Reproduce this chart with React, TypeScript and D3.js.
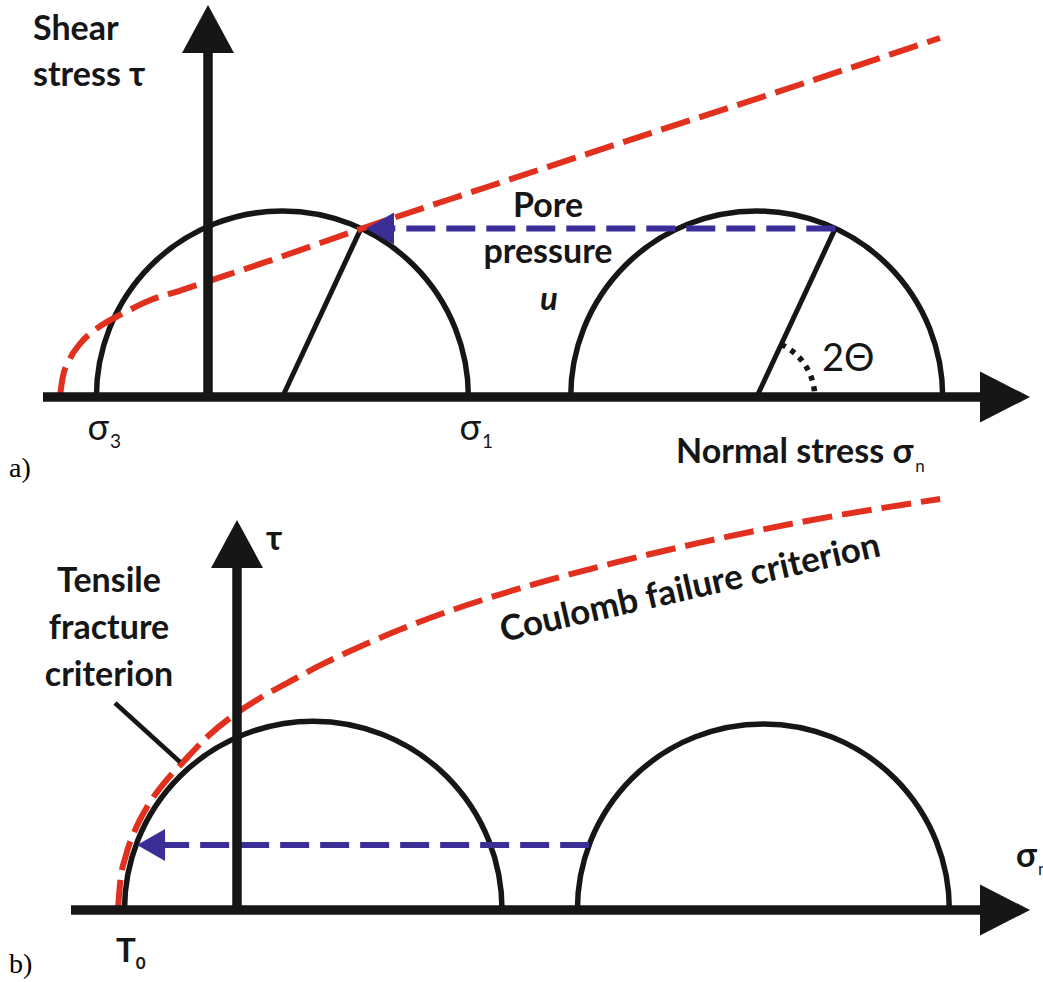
import React from 'react';
import * as d3 from 'd3';

// ---------- DATA (stress units; 1 unit = one tenth of a circle radius) ----------
// Panel a: Mohr circles before / after pore pressure shift
const circlesA = [
  { center: 4, radius: 10 },
  { center: 29.5, radius: 10 },
];
const twoThetaDeg = 65; // angle 2Θ of the failure plane
// Coulomb failure envelope in panel a (σn, τ)
const envelopeA: [number, number][] = [
  [-7.96, 0], [-7.82, 1.0], [-7.45, 2.0], [-6.85, 2.9], [-5.95, 3.7], [-4.65, 4.45],
  [-3.12, 5.2], [-1.5, 5.72], [0, 6.22], [3.0, 7.22], [8.28, 9.06], [15.0, 11.29],
  [22.0, 13.6], [30.0, 16.2], [39.35, 19.3],
];
const principalLabels = [
  { main: 'σ', sub: '3', at: -6 },
  { main: 'σ', sub: '1', at: 14 },
];

// Panel b: tensile failure
const circlesB = [
  { center: 4.1, radius: 10.15 },
  { center: 28.3, radius: 10 },
];
const tensileArrowTau = 3.5;
const envelopeB: [number, number][] = [
  [-6.4, 0], [-6.28, 1.5], [-5.98, 2.9], [-5.5, 4.25], [-4.8, 5.6], [-3.9, 6.85],
  [-2.9, 7.95], [-1.61, 9.3], [0, 10.6], [1.24, 11.4], [2.69, 12.2],
  [4.46, 13.15], [7.15, 14.4], [9.84, 15.5], [13.44, 16.75], [16.99, 17.8],
  [20.43, 18.7], [24.9, 19.75], [30.27, 20.85], [37.8, 22.1],
];
const tensileLines = ['Tensile', 'fracture', 'criterion'];

// ---------- LAYOUT ----------
const W = 1043;
const H = 982;
const U = 18.6; // pixels per stress unit
const BLACK = '#161616';
const RED = '#e2301f';
const BLUE = '#3b2f97';
const FONT = "Lato, 'Open Sans', 'DejaVu Sans', sans-serif";

const xA = d3.scaleLinear().domain([0, 1]).range([208, 208 + U]);
const yA = d3.scaleLinear().domain([0, 1]).range([397, 397 - U]);
const xB = d3.scaleLinear().domain([0, 1]).range([237, 237 + U]);
const yB = d3.scaleLinear().domain([0, 1]).range([910, 910 - U]);

const semicircle = (x: d3.ScaleLinear<number, number>, y: d3.ScaleLinear<number, number>, c: { center: number; radius: number }) => {
  const p = d3.path();
  const r = x(c.radius) - x(0);
  p.moveTo(x(c.center - c.radius), y(0));
  p.arc(x(c.center), y(0), r, Math.PI, 2 * Math.PI);
  return p.toString();
};

const envLine = (x: d3.ScaleLinear<number, number>, y: d3.ScaleLinear<number, number>) =>
  d3.line<[number, number]>()
    .x((d) => x(d[0]))
    .y((d) => y(d[1]))
    .curve(d3.curveMonotoneX);

function XAxis({ x0, x1, y }: { x0: number; x1: number; y: number }) {
  const head = 50, half = 25.5;
  return (
    <g>
      <line x1={x0} y1={y} x2={x1 - head + 2} y2={y} stroke={BLACK} strokeWidth={9.5} />
      <path d={`M${x1},${y}L${x1 - head},${y - half}L${x1 - head},${y + half}Z`} fill={BLACK} />
    </g>
  );
}
function YAxis({ x, y0, y1 }: { x: number; y0: number; y1: number }) {
  const head = 48, half = 26;
  return (
    <g>
      <line x1={x} y1={y0} x2={x} y2={y1 + head - 2} stroke={BLACK} strokeWidth={9.5} />
      <path d={`M${x},${y1}L${x - half},${y1 + head}L${x + half},${y1 + head}Z`} fill={BLACK} />
    </g>
  );
}
function BlueArrow({ xFrom, xTo, y }: { xFrom: number; xTo: number; y: number }) {
  const head = 28, half = 16;
  return (
    <g>
      <line x1={xFrom} y1={y} x2={xTo + head - 1} y2={y} stroke={BLUE} strokeWidth={6} strokeDasharray="29 11" />
      <path d={`M${xTo},${y}L${xTo + head},${y - half}L${xTo + head},${y + half}Z`} fill={BLUE} />
    </g>
  );
}

export default function App() {
  const t = (twoThetaDeg * Math.PI) / 180;
  // panel a geometry
  const failPts = circlesA.map((c) => [c.center + c.radius * Math.cos(t), c.radius * Math.sin(t)] as [number, number]);
  const poreTau = failPts[0][1];
  const arc = d3.path();
  const cx2 = xA(circlesA[1].center);
  arc.arc(cx2, yA(0), 58, -t, -0.02, false);

  // panel b geometry
  const dxB0 = Math.sqrt(circlesB[0].radius ** 2 - tensileArrowTau ** 2);
  const tipB = circlesB[0].center - dxB0;
  const fromB = circlesB[1].center - Math.sqrt(circlesB[1].radius ** 2 - tensileArrowTau ** 2);

  return (
    <svg width={W} height={H} viewBox={`0 0 ${W} ${H}`} style={{ position: 'absolute', left: 0, top: 0, display: 'block', background: '#fff' }}>
      <rect width={W} height={H} fill="#fff" />
      {/* ===== Panel a ===== */}
      <g>
        {circlesA.map((c, i) => (
          <path key={i} d={semicircle(xA, yA, c)} fill="none" stroke={BLACK} strokeWidth={5.5} />
        ))}
        {circlesA.map((c, i) => (
          <line key={i} x1={xA(c.center)} y1={yA(0)} x2={xA(failPts[i][0])} y2={yA(failPts[i][1])} stroke={BLACK} strokeWidth={5} />
        ))}
        <path d={arc.toString()} fill="none" stroke={BLACK} strokeWidth={5.5} strokeDasharray="5 6" />
        <path d={envLine(xA, yA)(envelopeA) || ''} fill="none" stroke={RED} strokeWidth={6} strokeDasharray="30 10" />
        <BlueArrow xFrom={xA(failPts[1][0])} xTo={xA(failPts[0][0]) + 5} y={yA(poreTau)} />
        <XAxis x0={43} x1={1030} y={yA(0)} />
        <YAxis x={xA(0)} y0={yA(0)} y1={5} />

        <text x={33} y={40} fontFamily={FONT} fontWeight={700} fontSize={34} fill={BLACK}>Shear</text>
        <text x={33} y={86} fontFamily={FONT} fontWeight={700} fontSize={34} fill={BLACK}>stress τ</text>

        <text x={548} y={217} textAnchor="middle" fontFamily={FONT} fontWeight={700} fontSize={34} fill={BLACK}>Pore</text>
        <text x={548} y={263} textAnchor="middle" fontFamily={FONT} fontWeight={700} fontSize={34} fill={BLACK}>pressure</text>
        <text x={549} y={310} textAnchor="middle" fontFamily={FONT} fontWeight={700} fontStyle="italic" fontSize={33} fill={BLACK}>u</text>

        <text x={822} y={371} fontFamily={FONT} fontSize={38} fill={BLACK}>2Θ</text>

        {principalLabels.map((l, i) => (
          <text key={i} x={xA(l.at) - 9} y={440} fontFamily={FONT} fontSize={36} fill={BLACK}>
            {l.main}
            <tspan fontSize={19} dx={1} dy={8}>{l.sub}</tspan>
          </text>
        ))}

        <text x={676} y={463} fontFamily={FONT} fontWeight={700} fontSize={34} fill={BLACK}>
          Normal stress σ<tspan fontSize={17} fontWeight={400} dx={2} dy={9}>n</tspan>
        </text>

        <text x={9} y={477} fontFamily="'Liberation Serif', 'Times New Roman', serif" fontSize={28} fill="#000">a)</text>
      </g>

      {/* ===== Panel b ===== */}
      <g>
        {circlesB.map((c, i) => (
          <path key={i} d={semicircle(xB, yB, c)} fill="none" stroke={BLACK} strokeWidth={5.5} />
        ))}
        <path d={envLine(xB, yB)(envelopeB) || ''} fill="none" stroke={RED} strokeWidth={6} strokeDasharray="30 10" />
        <BlueArrow xFrom={xB(fromB)} xTo={xB(tipB) + 1} y={yB(tensileArrowTau)} />
        <XAxis x0={71} x1={1030} y={yB(0)} />
        <YAxis x={xB(0)} y0={yB(0)} y1={520} />

        <text x={266} y={550} fontFamily={FONT} fontWeight={700} fontSize={34} fill={BLACK}>τ</text>

        {tensileLines.map((s, i) => (
          <text key={i} x={109} y={592 + i * 47} textAnchor="middle" fontFamily={FONT} fontWeight={700} fontSize={34} fill={BLACK}>{s}</text>
        ))}
        <line x1={115} y1={703} x2={180} y2={762} stroke={BLACK} strokeWidth={4.5} />

        <text transform="translate(503,642) rotate(-12.8)" fontFamily={FONT} fontWeight={700} fontSize={35} fill={BLACK}>Coulomb failure criterion</text>

        <text x={1016} y={867} fontFamily={FONT} fontWeight={700} fontSize={34} fill={BLACK}>
          σ<tspan fontSize={17} fontWeight={400} dx={1} dy={8}>n</tspan>
        </text>

        <text x={116} y={962} fontFamily={FONT} fontWeight={700} fontSize={33} fill={BLACK}>
          T<tspan fontSize={17} dx={0} dy={7}>0</tspan>
        </text>

        <text x={9} y={973} fontFamily="'Liberation Serif', 'Times New Roman', serif" fontSize={28} fill="#000">b)</text>
      </g>
    </svg>
  );
}
